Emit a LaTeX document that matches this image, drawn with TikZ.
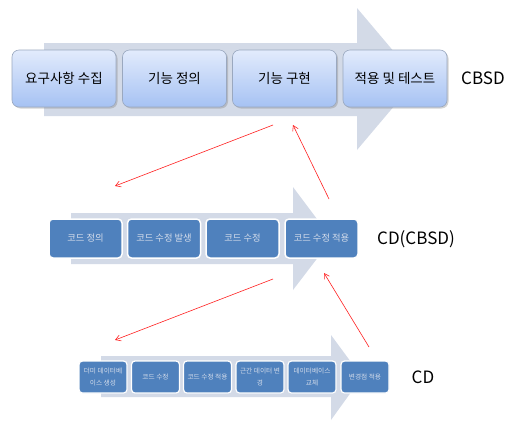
\documentclass[tikz,border=0pt]{standalone}
\usepackage{fontspec}
\setmainfont{Noto Sans CJK KR}
\usetikzlibrary{arrows.meta,shadows}

\definecolor{flowbg}{HTML}{D3DAE7}
\definecolor{topedge}{HTML}{9AA8BF}
\definecolor{toptop}{HTML}{E2EBFC}
\definecolor{topbot}{HTML}{A6C2F3}
\definecolor{midfill}{HTML}{4F81BD}
\definecolor{softtext}{HTML}{D2DBEA}
\definecolor{linkred}{HTML}{FF2020}

\tikzset{
  bigstage/.style={draw=topedge, line width=0.6pt, rounded corners=7pt,
    top color=toptop, bottom color=topbot,
    minimum width=104pt, minimum height=57pt, inner sep=1pt,
    font=\fontsize{13.5}{15}\selectfont,
    drop shadow={shadow xshift=1.5pt, shadow yshift=-1.5pt, opacity=0.35}},
  midstage/.style={fill=midfill, draw=white, line width=1.5pt, rounded corners=4pt,
    minimum width=73pt, minimum height=39pt, inner sep=1pt,
    text=softtext, font=\fontsize{9.3}{10}\selectfont},
  smallstage/.style={fill=midfill, draw=white, line width=1.2pt, rounded corners=3.5pt,
    minimum width=48pt, minimum height=32pt, inner sep=0.5pt, align=center,
    text=softtext, font=\fontsize{6.7}{12.5}\selectfont},
  levellabel/.style={font=\fontsize{17}{19}\selectfont, text=black},
  feedback/.style={draw=linkred, line width=0.6pt, -{Straight Barb[length=5pt,width=6pt]}}
}

\begin{document}
\begin{tikzpicture}[x=1pt,y=-1pt]
\useasboundingbox (0,0) rectangle (512,421);

% broad process arrows behind each row
\fill[flowbg] (44,43) -- (357,43) -- (357,8) -- (417,79) -- (357,150) -- (357,116) -- (44,116) -- cycle;
\fill[flowbg] (71,213) -- (293,213) -- (293,187) -- (332,239) -- (293,290) -- (293,264) -- (71,264) -- cycle;
\fill[flowbg] (101,356) -- (331,356) -- (331,335) -- (362,377) -- (331,420) -- (331,397) -- (101,397) -- cycle;

% CBSD row
\node[bigstage] (t1) at (64,78.5) {요구사항 수집};
\node[bigstage] (t2) at (174.5,78.5) {기능 정의};
\node[bigstage] (t3) at (284.5,78.5) {기능 구현};
\node[bigstage] (t4) at (395,78.5) {적용 및 테스트};
\node[levellabel] (lab1) at (483,78) {CBSD};

% CD(CBSD) row
\node[midstage] (m1) at (85.5,238.5) {코드 정의};
\node[midstage] (m2) at (164,238.5) {코드 수정 발생};
\node[midstage] (m3) at (242.5,238.5) {코드 수정};
\node[midstage] (m4) at (321.5,238.5) {코드 수정 적용};
\node[levellabel] (lab2) at (416,239) {CD(CBSD)};

% CD row
\node[smallstage] (b1) at (103,377) {더미 데이터베\\이스 생성};
\node[smallstage] (b2) at (155.5,377) {코드 수정};
\node[smallstage] (b3) at (207.5,377) {코드 수정 적용};
\node[smallstage] (b4) at (260,377) {근간 데이터 변\\경};
\node[smallstage] (b5) at (312,377) {데이터베이스\\교체};
\node[smallstage] (b6) at (365,377) {변경점 적용};
\node[levellabel] (lab3) at (423,377) {CD};

% feedback links between the levels
\coordinate (d1s) at (273,125);
\coordinate (d1e) at (115,186);
\coordinate (u1s) at (329,199);
\coordinate (u1e) at (293,125);
\coordinate (d2s) at (273,279);
\coordinate (d2e) at (115,340);
\coordinate (u2s) at (369,347);
\coordinate (u2e) at (324,273);
\draw[feedback] (d1s) -- (d1e);
\draw[feedback] (u1s) -- (u1e);
\draw[feedback] (d2s) -- (d2e);
\draw[feedback] (u2s) -- (u2e);
\end{tikzpicture}
\end{document}
